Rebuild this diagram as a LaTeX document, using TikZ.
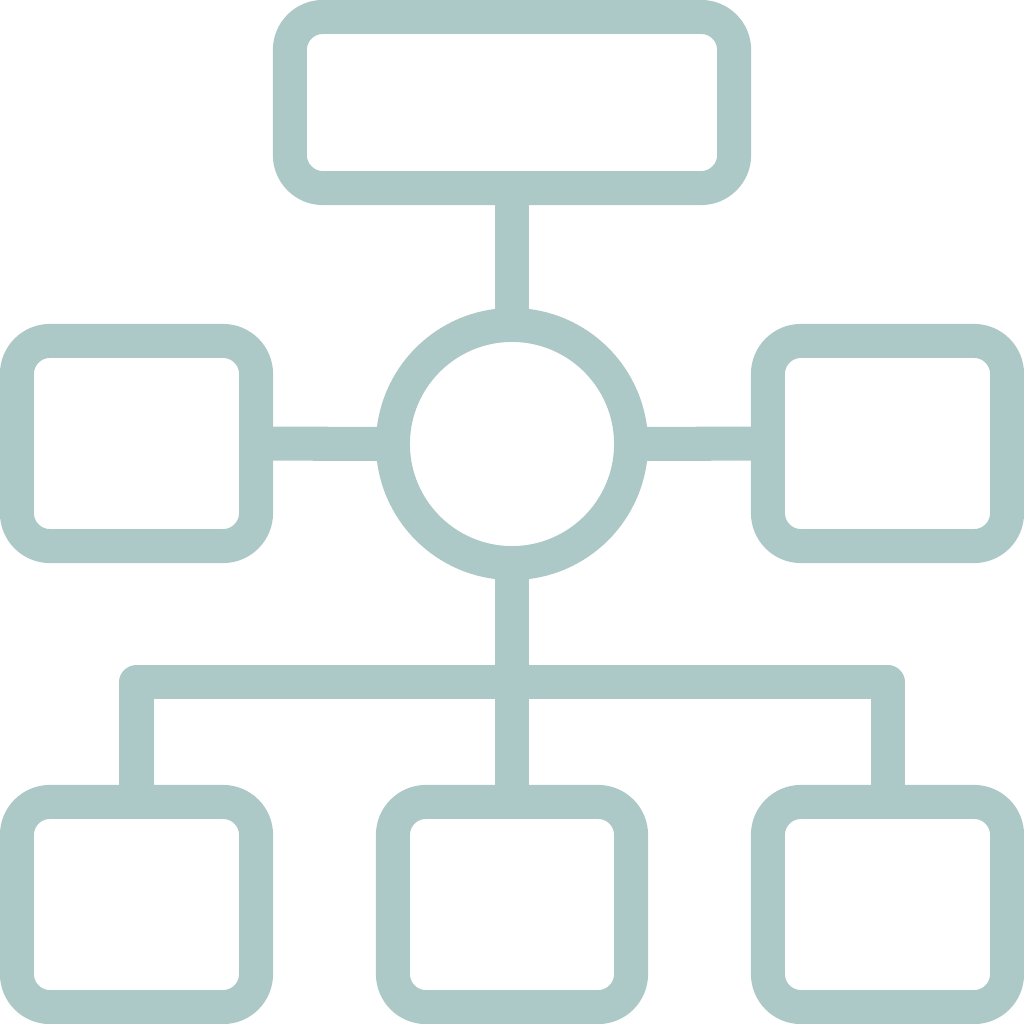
\documentclass[tikz,border=0pt]{standalone}
\usepackage{tikz}
\usetikzlibrary{positioning}
\definecolor{iconteal}{RGB}{172,200,199}
\tikzset{
  chartbox/.style={rectangle, rounded corners=0.33cm, draw=iconteal, line width=0.34cm, inner sep=0pt, outer sep=0pt, minimum width=2.39cm, minimum height=2.05cm},
  hubcircle/.style={circle, draw=iconteal, line width=0.34cm, inner sep=0pt, outer sep=0pt, minimum size=2.38cm},
  link/.style={draw=iconteal, line width=0.34cm, line join=round}
}
\begin{document}
\begin{tikzpicture}[x=0.01cm, y=-0.01cm]
		\useasboundingbox (0,0) rectangle (1024,1024);
		\node (head) [chartbox, minimum width=4.44cm, minimum height=1.71cm] at (512,102.5) {};
		\node (hub) [hubcircle] at (512,444) {};
		\node (left) [chartbox] at (136.5,443.5) {};
		\node (right) [chartbox] at (887.5,443.5) {};
		\node (botleft) [chartbox] at (136.5,904.5) {};
		\node (botmid) [chartbox, minimum width=2.38cm] at (512,904.5) {};
		\node (botright) [chartbox] at (887.5,904.5) {};
		\coordinate (bar) at (512,682);
		\draw [link] (head) -- (hub);
		\draw [link] (left) -- (hub);
		\draw [link] (hub) -- (right);
		\draw [link] (hub) -- (botmid);
		\draw [link] (botleft.north) |- (bar) -| (botright.north);
\end{tikzpicture}
\end{document}
